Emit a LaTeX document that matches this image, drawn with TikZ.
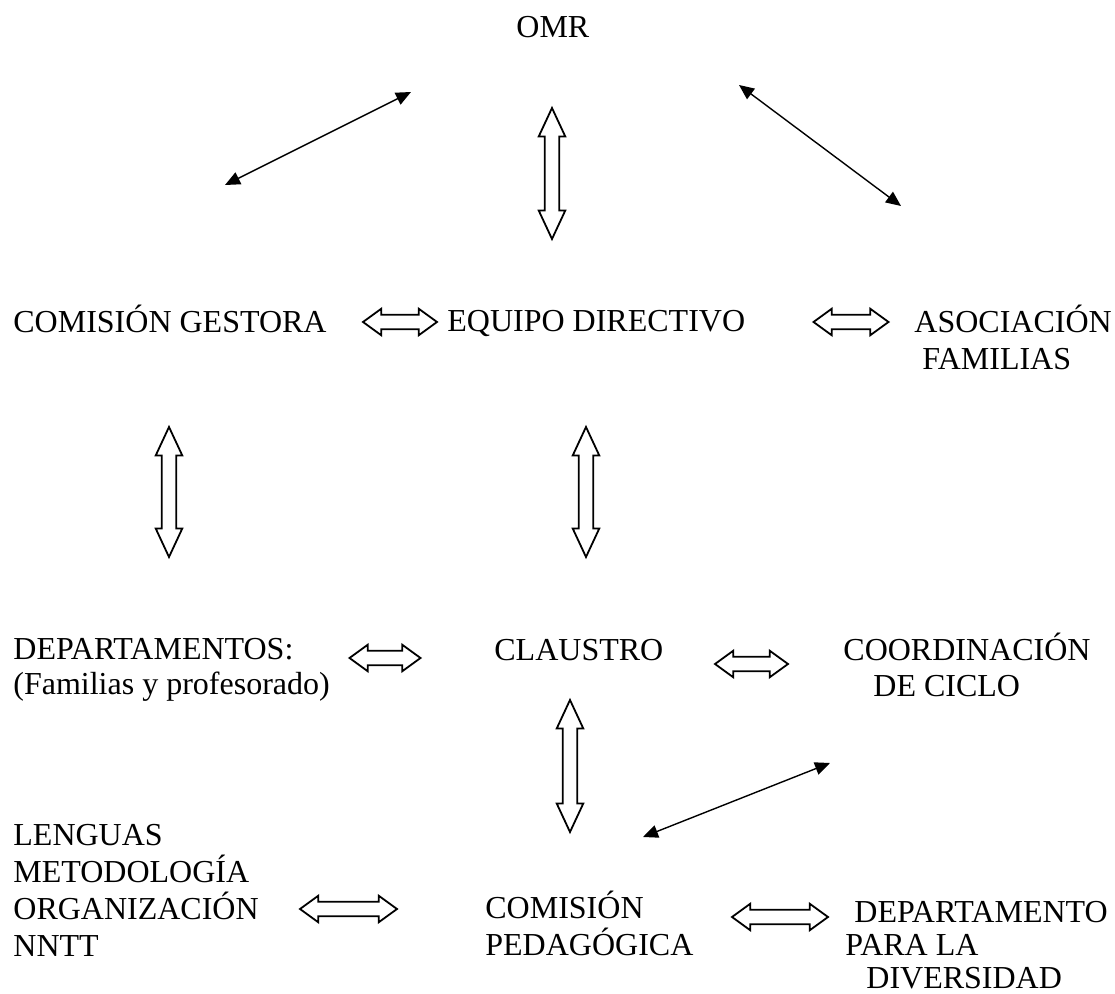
\documentclass[tikz,border=0pt]{standalone}
\usepackage{fontspec}
\setmainfont{Liberation Serif}
\usetikzlibrary{arrows.meta,shapes.arrows}

\begin{document}
\begin{tikzpicture}[x=0.5pt,y=-0.5pt,font=\fontsize{16pt}{18.5pt}\selectfont]
\tikzstyle{txt} = [anchor=base west, inner sep=0pt, align=left]
\tikzstyle{hollow} = [double arrow, draw, line width=0.9pt, fill=white,
inner xsep=0pt, inner ysep=3.2pt, minimum width=12.5pt,
double arrow head extend=3pt, double arrow tip angle=72]
\tikzstyle{hollow_v} = [hollow, rotate=90, double arrow tip angle=50]
\tikzstyle{link} = [draw, line width=0.7pt,
{Triangle[length=7.5pt,width=6.5pt]}-{Triangle[length=7.5pt,width=6.5pt]}]
\useasboundingbox (0,0) rectangle (1115,994);
% row 1
\node [txt] (omr) at (516,38) {OMR};
% row 2
\node [txt] (gestora) at (13,333) {COMISIÓN GESTORA};
\node [txt] (equipo) at (447,332) {EQUIPO DIRECTIVO};
\node [txt] (asociacion) at (914,370) {ASOCIACIÓN\\\hspace*{4pt}FAMILIAS};
% row 3
\node [txt, font=\fontsize{16pt}{17.5pt}\selectfont] (departamentos) at (13,695)
  {DEPARTAMENTOS:\\(Familias y profesorado)};
\node [txt] (claustro) at (494,661) {CLAUSTRO};
\node [txt, font=\fontsize{16pt}{18pt}\selectfont] (coordinacion) at (843,697)
  {COORDINACIÓN\\\hspace*{15pt}DE CICLO};
% row 4
\node [txt] (grupos) at (13,956) {LENGUAS\\METODOLOGÍA\\ORGANIZACIÓN\\NNTT};
\node [txt] (pedagogica) at (485,955) {COMISIÓN\\PEDAGÓGICA};
\node [txt, font=\fontsize{16pt}{16.5pt}\selectfont] (diversidad) at (845,988)
  {\hspace*{4.5pt}DEPARTAMENTO\\PARA LA\\\hspace*{10.5pt}DIVERSIDAD};

% hollow arrows
\node [hollow, minimum height=37pt] (gestora_equipo) at (400,322) {};
\node [hollow, minimum height=37.5pt] (equipo_asociacion) at (851,322) {};
\node [hollow_v, minimum height=65.5pt] (omr_equipo) at (552,173.5) {};
\node [hollow_v, minimum height=65pt] (gestora_departamentos) at (169,492) {};
\node [hollow_v, minimum height=65pt] (equipo_claustro) at (586,492) {};
\node [hollow, minimum height=35.5pt] (departamentos_claustro) at (385,658) {};
\node [hollow, minimum height=36.5pt] (claustro_coordinacion) at (751.5,664) {};
\node [hollow_v, minimum height=66pt] (claustro_pedagogica) at (570,766) {};
\node [hollow, minimum height=48.5pt] (grupos_pedagogica) at (348.5,909) {};
\node [hollow, minimum height=48pt] (pedagogica_diversidad) at (780,917) {};

% thin arrows
\coordinate (omr_w) at (411,92);
\coordinate (gestora_n) at (225,185);
\coordinate (omr_e) at (739,85);
\coordinate (asociacion_n) at (901,206);
\coordinate (pedagogica_n) at (643,837);
\coordinate (coordinacion_s) at (830,763);
\path [link] (gestora_n) -- (omr_w);
\path [link] (omr_e) -- (asociacion_n);
\path [link] (pedagogica_n) -- (coordinacion_s);
\end{tikzpicture}
\end{document}
